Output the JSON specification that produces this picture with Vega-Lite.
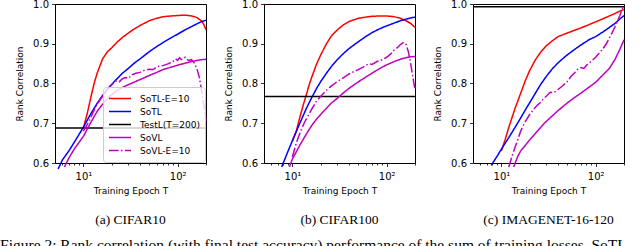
{
  "$schema": "https://vega.github.io/schema/vega-lite/v6.json",
  "padding": {"left": 0, "top": -2, "right": 0, "bottom": 0},
  "config": {
    "font": "DejaVu Sans",
    "view": {"stroke": "#000000", "strokeWidth": 1},
    "axis": {"grid": false, "domain": false, "tickColor": "#000000", "tickWidth": 0.8, "labelColor": "#000000", "titleColor": "#000000", "labelFont": "DejaVu Sans", "titleFont": "DejaVu Sans", "labelFontSize": 10, "titleFontSize": 9, "titleFontWeight": "normal"},
    "line": {"strokeWidth": 1.5, "clip": true}
  },
  "title": {"text": "Figure 2: Rank correlation (with final test accuracy) performance of the sum of training losses, SoTL", "orient": "bottom", "anchor": "start", "dx": -15, "offset": 11, "font": "Liberation Serif", "fontSize": 15.5, "fontWeight": "normal", "color": "#000000"},
  "resolve": {"scale": {"x": "independent", "y": "independent", "color": "independent", "strokeDash": "independent"}},
  "spacing": 14,
  "datasets": {
    "c10": [
      {"T": 10, "r": 0.688, "s": "SoTL-E=10"}, {"T": 11, "r": 0.725, "s": "SoTL-E=10"}, {"T": 12, "r": 0.765, "s": "SoTL-E=10"}, {"T": 13, "r": 0.8, "s": "SoTL-E=10"}, {"T": 14, "r": 0.826, "s": "SoTL-E=10"}, {"T": 16, "r": 0.862, "s": "SoTL-E=10"}, {"T": 18, "r": 0.88, "s": "SoTL-E=10"}, {"T": 20, "r": 0.89, "s": "SoTL-E=10"}, {"T": 23, "r": 0.905, "s": "SoTL-E=10"}, {"T": 26, "r": 0.916, "s": "SoTL-E=10"}, {"T": 30, "r": 0.927, "s": "SoTL-E=10"}, {"T": 35, "r": 0.938, "s": "SoTL-E=10"}, {"T": 40, "r": 0.946, "s": "SoTL-E=10"}, {"T": 50, "r": 0.958, "s": "SoTL-E=10"}, {"T": 60, "r": 0.964, "s": "SoTL-E=10"}, {"T": 70, "r": 0.968, "s": "SoTL-E=10"}, {"T": 85, "r": 0.97, "s": "SoTL-E=10"}, {"T": 100, "r": 0.971, "s": "SoTL-E=10"}, {"T": 120, "r": 0.972, "s": "SoTL-E=10"}, {"T": 140, "r": 0.97, "s": "SoTL-E=10"}, {"T": 160, "r": 0.966, "s": "SoTL-E=10"}, {"T": 180, "r": 0.957, "s": "SoTL-E=10"}, {"T": 190, "r": 0.948, "s": "SoTL-E=10"}, {"T": 200, "r": 0.935, "s": "SoTL-E=10"},
      {"T": 5.4, "r": 0.585, "s": "SoTL"}, {"T": 6, "r": 0.608, "s": "SoTL"}, {"T": 7, "r": 0.63, "s": "SoTL"}, {"T": 8, "r": 0.652, "s": "SoTL"}, {"T": 9, "r": 0.672, "s": "SoTL"}, {"T": 10, "r": 0.69, "s": "SoTL"}, {"T": 12, "r": 0.724, "s": "SoTL"}, {"T": 14, "r": 0.75, "s": "SoTL"}, {"T": 16, "r": 0.77, "s": "SoTL"}, {"T": 18, "r": 0.786, "s": "SoTL"}, {"T": 20, "r": 0.798, "s": "SoTL"}, {"T": 23, "r": 0.813, "s": "SoTL"}, {"T": 26, "r": 0.826, "s": "SoTL"}, {"T": 30, "r": 0.838, "s": "SoTL"}, {"T": 35, "r": 0.852, "s": "SoTL"}, {"T": 40, "r": 0.862, "s": "SoTL"}, {"T": 50, "r": 0.88, "s": "SoTL"}, {"T": 60, "r": 0.893, "s": "SoTL"}, {"T": 70, "r": 0.903, "s": "SoTL"}, {"T": 85, "r": 0.915, "s": "SoTL"}, {"T": 100, "r": 0.924, "s": "SoTL"}, {"T": 120, "r": 0.935, "s": "SoTL"}, {"T": 140, "r": 0.943, "s": "SoTL"}, {"T": 160, "r": 0.95, "s": "SoTL"}, {"T": 180, "r": 0.956, "s": "SoTL"}, {"T": 200, "r": 0.959, "s": "SoTL"},
      {"T": 5, "r": 0.688, "s": "TestL(T=200)"}, {"T": 200, "r": 0.688, "s": "TestL(T=200)"},
      {"T": 6.3, "r": 0.59, "s": "SoVL"}, {"T": 7, "r": 0.612, "s": "SoVL"}, {"T": 8, "r": 0.635, "s": "SoVL"}, {"T": 9, "r": 0.652, "s": "SoVL"}, {"T": 10, "r": 0.667, "s": "SoVL"}, {"T": 12, "r": 0.702, "s": "SoVL"}, {"T": 14, "r": 0.73, "s": "SoVL"}, {"T": 16, "r": 0.748, "s": "SoVL"}, {"T": 18, "r": 0.762, "s": "SoVL"}, {"T": 20, "r": 0.772, "s": "SoVL"}, {"T": 23, "r": 0.783, "s": "SoVL"}, {"T": 26, "r": 0.79, "s": "SoVL"}, {"T": 30, "r": 0.797, "s": "SoVL"}, {"T": 35, "r": 0.804, "s": "SoVL"}, {"T": 40, "r": 0.81, "s": "SoVL"}, {"T": 50, "r": 0.82, "s": "SoVL"}, {"T": 60, "r": 0.828, "s": "SoVL"}, {"T": 70, "r": 0.835, "s": "SoVL"}, {"T": 85, "r": 0.841, "s": "SoVL"}, {"T": 100, "r": 0.846, "s": "SoVL"}, {"T": 120, "r": 0.851, "s": "SoVL"}, {"T": 140, "r": 0.855, "s": "SoVL"}, {"T": 160, "r": 0.858, "s": "SoVL"}, {"T": 180, "r": 0.86, "s": "SoVL"}, {"T": 200, "r": 0.861, "s": "SoVL"},
      {"T": 10, "r": 0.68, "s": "SoVL-E=10"}, {"T": 11, "r": 0.697, "s": "SoVL-E=10"}, {"T": 12, "r": 0.715, "s": "SoVL-E=10"}, {"T": 13, "r": 0.733, "s": "SoVL-E=10"}, {"T": 14, "r": 0.748, "s": "SoVL-E=10"}, {"T": 16, "r": 0.768, "s": "SoVL-E=10"}, {"T": 18, "r": 0.784, "s": "SoVL-E=10"}, {"T": 20, "r": 0.797, "s": "SoVL-E=10"}, {"T": 22, "r": 0.806, "s": "SoVL-E=10"}, {"T": 24, "r": 0.804, "s": "SoVL-E=10"}, {"T": 26, "r": 0.812, "s": "SoVL-E=10"}, {"T": 28, "r": 0.815, "s": "SoVL-E=10"}, {"T": 30, "r": 0.813, "s": "SoVL-E=10"}, {"T": 33, "r": 0.822, "s": "SoVL-E=10"}, {"T": 36, "r": 0.826, "s": "SoVL-E=10"}, {"T": 40, "r": 0.828, "s": "SoVL-E=10"}, {"T": 45, "r": 0.834, "s": "SoVL-E=10"}, {"T": 50, "r": 0.836, "s": "SoVL-E=10"}, {"T": 55, "r": 0.835, "s": "SoVL-E=10"}, {"T": 60, "r": 0.842, "s": "SoVL-E=10"}, {"T": 70, "r": 0.845, "s": "SoVL-E=10"}, {"T": 80, "r": 0.85, "s": "SoVL-E=10"}, {"T": 90, "r": 0.856, "s": "SoVL-E=10"}, {"T": 95, "r": 0.862, "s": "SoVL-E=10"}, {"T": 100, "r": 0.858, "s": "SoVL-E=10"}, {"T": 105, "r": 0.865, "s": "SoVL-E=10"}, {"T": 110, "r": 0.86, "s": "SoVL-E=10"}, {"T": 120, "r": 0.866, "s": "SoVL-E=10"}, {"T": 130, "r": 0.858, "s": "SoVL-E=10"}, {"T": 140, "r": 0.86, "s": "SoVL-E=10"}, {"T": 150, "r": 0.852, "s": "SoVL-E=10"}, {"T": 160, "r": 0.838, "s": "SoVL-E=10"}, {"T": 170, "r": 0.815, "s": "SoVL-E=10"}, {"T": 180, "r": 0.78, "s": "SoVL-E=10"}, {"T": 190, "r": 0.745, "s": "SoVL-E=10"}, {"T": 200, "r": 0.705, "s": "SoVL-E=10"}
    ],
    "c100": [
      {"T": 10, "r": 0.655, "s": "SoTL-E=10"}, {"T": 11, "r": 0.68, "s": "SoTL-E=10"}, {"T": 12, "r": 0.715, "s": "SoTL-E=10"}, {"T": 13, "r": 0.745, "s": "SoTL-E=10"}, {"T": 14, "r": 0.77, "s": "SoTL-E=10"}, {"T": 15, "r": 0.795, "s": "SoTL-E=10"}, {"T": 16, "r": 0.815, "s": "SoTL-E=10"}, {"T": 18, "r": 0.848, "s": "SoTL-E=10"}, {"T": 20, "r": 0.872, "s": "SoTL-E=10"}, {"T": 23, "r": 0.9, "s": "SoTL-E=10"}, {"T": 26, "r": 0.92, "s": "SoTL-E=10"}, {"T": 30, "r": 0.935, "s": "SoTL-E=10"}, {"T": 35, "r": 0.948, "s": "SoTL-E=10"}, {"T": 40, "r": 0.956, "s": "SoTL-E=10"}, {"T": 50, "r": 0.964, "s": "SoTL-E=10"}, {"T": 60, "r": 0.967, "s": "SoTL-E=10"}, {"T": 70, "r": 0.969, "s": "SoTL-E=10"}, {"T": 85, "r": 0.97, "s": "SoTL-E=10"}, {"T": 100, "r": 0.97, "s": "SoTL-E=10"}, {"T": 120, "r": 0.968, "s": "SoTL-E=10"}, {"T": 140, "r": 0.964, "s": "SoTL-E=10"}, {"T": 160, "r": 0.958, "s": "SoTL-E=10"}, {"T": 180, "r": 0.951, "s": "SoTL-E=10"}, {"T": 200, "r": 0.941, "s": "SoTL-E=10"},
      {"T": 7.7, "r": 0.59, "s": "SoTL"}, {"T": 9, "r": 0.63, "s": "SoTL"}, {"T": 10, "r": 0.656, "s": "SoTL"}, {"T": 12, "r": 0.7, "s": "SoTL"}, {"T": 14, "r": 0.736, "s": "SoTL"}, {"T": 16, "r": 0.764, "s": "SoTL"}, {"T": 18, "r": 0.787, "s": "SoTL"}, {"T": 20, "r": 0.805, "s": "SoTL"}, {"T": 23, "r": 0.826, "s": "SoTL"}, {"T": 26, "r": 0.843, "s": "SoTL"}, {"T": 30, "r": 0.86, "s": "SoTL"}, {"T": 35, "r": 0.876, "s": "SoTL"}, {"T": 40, "r": 0.888, "s": "SoTL"}, {"T": 50, "r": 0.905, "s": "SoTL"}, {"T": 60, "r": 0.918, "s": "SoTL"}, {"T": 70, "r": 0.928, "s": "SoTL"}, {"T": 85, "r": 0.938, "s": "SoTL"}, {"T": 100, "r": 0.945, "s": "SoTL"}, {"T": 120, "r": 0.952, "s": "SoTL"}, {"T": 140, "r": 0.958, "s": "SoTL"}, {"T": 160, "r": 0.962, "s": "SoTL"}, {"T": 180, "r": 0.965, "s": "SoTL"}, {"T": 200, "r": 0.967, "s": "SoTL"},
      {"T": 5, "r": 0.767, "s": "TestL(T=200)"}, {"T": 200, "r": 0.767, "s": "TestL(T=200)"},
      {"T": 9.3, "r": 0.59, "s": "SoVL"}, {"T": 10, "r": 0.61, "s": "SoVL"}, {"T": 11, "r": 0.628, "s": "SoVL"}, {"T": 12, "r": 0.645, "s": "SoVL"}, {"T": 14, "r": 0.672, "s": "SoVL"}, {"T": 16, "r": 0.694, "s": "SoVL"}, {"T": 18, "r": 0.71, "s": "SoVL"}, {"T": 20, "r": 0.722, "s": "SoVL"}, {"T": 23, "r": 0.738, "s": "SoVL"}, {"T": 26, "r": 0.751, "s": "SoVL"}, {"T": 30, "r": 0.763, "s": "SoVL"}, {"T": 35, "r": 0.777, "s": "SoVL"}, {"T": 40, "r": 0.788, "s": "SoVL"}, {"T": 50, "r": 0.804, "s": "SoVL"}, {"T": 60, "r": 0.816, "s": "SoVL"}, {"T": 70, "r": 0.826, "s": "SoVL"}, {"T": 85, "r": 0.838, "s": "SoVL"}, {"T": 100, "r": 0.847, "s": "SoVL"}, {"T": 120, "r": 0.855, "s": "SoVL"}, {"T": 140, "r": 0.861, "s": "SoVL"}, {"T": 160, "r": 0.865, "s": "SoVL"}, {"T": 180, "r": 0.867, "s": "SoVL"}, {"T": 200, "r": 0.868, "s": "SoVL"},
      {"T": 10, "r": 0.615, "s": "SoVL-E=10"}, {"T": 11, "r": 0.65, "s": "SoVL-E=10"}, {"T": 12, "r": 0.675, "s": "SoVL-E=10"}, {"T": 13, "r": 0.695, "s": "SoVL-E=10"}, {"T": 14, "r": 0.71, "s": "SoVL-E=10"}, {"T": 16, "r": 0.735, "s": "SoVL-E=10"}, {"T": 18, "r": 0.755, "s": "SoVL-E=10"}, {"T": 20, "r": 0.768, "s": "SoVL-E=10"}, {"T": 23, "r": 0.783, "s": "SoVL-E=10"}, {"T": 26, "r": 0.794, "s": "SoVL-E=10"}, {"T": 30, "r": 0.805, "s": "SoVL-E=10"}, {"T": 35, "r": 0.815, "s": "SoVL-E=10"}, {"T": 40, "r": 0.824, "s": "SoVL-E=10"}, {"T": 45, "r": 0.83, "s": "SoVL-E=10"}, {"T": 50, "r": 0.835, "s": "SoVL-E=10"}, {"T": 55, "r": 0.84, "s": "SoVL-E=10"}, {"T": 60, "r": 0.845, "s": "SoVL-E=10"}, {"T": 65, "r": 0.85, "s": "SoVL-E=10"}, {"T": 70, "r": 0.848, "s": "SoVL-E=10"}, {"T": 80, "r": 0.856, "s": "SoVL-E=10"}, {"T": 90, "r": 0.86, "s": "SoVL-E=10"}, {"T": 100, "r": 0.866, "s": "SoVL-E=10"}, {"T": 110, "r": 0.874, "s": "SoVL-E=10"}, {"T": 120, "r": 0.884, "s": "SoVL-E=10"}, {"T": 130, "r": 0.89, "s": "SoVL-E=10"}, {"T": 140, "r": 0.898, "s": "SoVL-E=10"}, {"T": 150, "r": 0.903, "s": "SoVL-E=10"}, {"T": 160, "r": 0.9, "s": "SoVL-E=10"}, {"T": 170, "r": 0.88, "s": "SoVL-E=10"}, {"T": 180, "r": 0.85, "s": "SoVL-E=10"}, {"T": 190, "r": 0.815, "s": "SoVL-E=10"}, {"T": 200, "r": 0.785, "s": "SoVL-E=10"}
    ],
    "im": [
      {"T": 10, "r": 0.63, "s": "SoTL-E=10"}, {"T": 11, "r": 0.66, "s": "SoTL-E=10"}, {"T": 12, "r": 0.69, "s": "SoTL-E=10"}, {"T": 13, "r": 0.715, "s": "SoTL-E=10"}, {"T": 14, "r": 0.738, "s": "SoTL-E=10"}, {"T": 16, "r": 0.775, "s": "SoTL-E=10"}, {"T": 18, "r": 0.808, "s": "SoTL-E=10"}, {"T": 20, "r": 0.833, "s": "SoTL-E=10"}, {"T": 23, "r": 0.86, "s": "SoTL-E=10"}, {"T": 26, "r": 0.878, "s": "SoTL-E=10"}, {"T": 30, "r": 0.895, "s": "SoTL-E=10"}, {"T": 35, "r": 0.908, "s": "SoTL-E=10"}, {"T": 40, "r": 0.918, "s": "SoTL-E=10"}, {"T": 50, "r": 0.927, "s": "SoTL-E=10"}, {"T": 60, "r": 0.934, "s": "SoTL-E=10"}, {"T": 70, "r": 0.94, "s": "SoTL-E=10"}, {"T": 85, "r": 0.948, "s": "SoTL-E=10"}, {"T": 100, "r": 0.955, "s": "SoTL-E=10"}, {"T": 120, "r": 0.963, "s": "SoTL-E=10"}, {"T": 140, "r": 0.97, "s": "SoTL-E=10"}, {"T": 160, "r": 0.976, "s": "SoTL-E=10"}, {"T": 180, "r": 0.982, "s": "SoTL-E=10"}, {"T": 200, "r": 0.986, "s": "SoTL-E=10"},
      {"T": 7.8, "r": 0.594, "s": "SoTL"}, {"T": 9, "r": 0.617, "s": "SoTL"}, {"T": 10, "r": 0.635, "s": "SoTL"}, {"T": 12, "r": 0.664, "s": "SoTL"}, {"T": 14, "r": 0.69, "s": "SoTL"}, {"T": 16, "r": 0.713, "s": "SoTL"}, {"T": 18, "r": 0.734, "s": "SoTL"}, {"T": 20, "r": 0.752, "s": "SoTL"}, {"T": 23, "r": 0.776, "s": "SoTL"}, {"T": 26, "r": 0.797, "s": "SoTL"}, {"T": 30, "r": 0.818, "s": "SoTL"}, {"T": 35, "r": 0.838, "s": "SoTL"}, {"T": 40, "r": 0.852, "s": "SoTL"}, {"T": 45, "r": 0.863, "s": "SoTL"}, {"T": 50, "r": 0.872, "s": "SoTL"}, {"T": 60, "r": 0.886, "s": "SoTL"}, {"T": 70, "r": 0.897, "s": "SoTL"}, {"T": 85, "r": 0.91, "s": "SoTL"}, {"T": 100, "r": 0.918, "s": "SoTL"}, {"T": 120, "r": 0.93, "s": "SoTL"}, {"T": 140, "r": 0.941, "s": "SoTL"}, {"T": 160, "r": 0.951, "s": "SoTL"}, {"T": 180, "r": 0.962, "s": "SoTL"}, {"T": 200, "r": 0.971, "s": "SoTL"},
      {"T": 5, "r": 0.993, "s": "TestL(T=200)"}, {"T": 200, "r": 0.993, "s": "TestL(T=200)"},
      {"T": 13.5, "r": 0.59, "s": "SoVL"}, {"T": 15, "r": 0.618, "s": "SoVL"}, {"T": 16, "r": 0.63, "s": "SoVL"}, {"T": 18, "r": 0.645, "s": "SoVL"}, {"T": 20, "r": 0.658, "s": "SoVL"}, {"T": 24, "r": 0.68, "s": "SoVL"}, {"T": 28, "r": 0.698, "s": "SoVL"}, {"T": 32, "r": 0.711, "s": "SoVL"}, {"T": 36, "r": 0.722, "s": "SoVL"}, {"T": 40, "r": 0.732, "s": "SoVL"}, {"T": 45, "r": 0.742, "s": "SoVL"}, {"T": 50, "r": 0.751, "s": "SoVL"}, {"T": 60, "r": 0.765, "s": "SoVL"}, {"T": 70, "r": 0.776, "s": "SoVL"}, {"T": 80, "r": 0.786, "s": "SoVL"}, {"T": 90, "r": 0.795, "s": "SoVL"}, {"T": 100, "r": 0.803, "s": "SoVL"}, {"T": 120, "r": 0.822, "s": "SoVL"}, {"T": 140, "r": 0.838, "s": "SoVL"}, {"T": 160, "r": 0.86, "s": "SoVL"}, {"T": 180, "r": 0.885, "s": "SoVL"}, {"T": 200, "r": 0.91, "s": "SoVL"},
      {"T": 12, "r": 0.59, "s": "SoVL-E=10"}, {"T": 13, "r": 0.618, "s": "SoVL-E=10"}, {"T": 14, "r": 0.64, "s": "SoVL-E=10"}, {"T": 15, "r": 0.66, "s": "SoVL-E=10"}, {"T": 16, "r": 0.68, "s": "SoVL-E=10"}, {"T": 18, "r": 0.705, "s": "SoVL-E=10"}, {"T": 20, "r": 0.722, "s": "SoVL-E=10"}, {"T": 22, "r": 0.735, "s": "SoVL-E=10"}, {"T": 24, "r": 0.745, "s": "SoVL-E=10"}, {"T": 26, "r": 0.752, "s": "SoVL-E=10"}, {"T": 28, "r": 0.762, "s": "SoVL-E=10"}, {"T": 30, "r": 0.768, "s": "SoVL-E=10"}, {"T": 33, "r": 0.778, "s": "SoVL-E=10"}, {"T": 36, "r": 0.777, "s": "SoVL-E=10"}, {"T": 40, "r": 0.785, "s": "SoVL-E=10"}, {"T": 45, "r": 0.795, "s": "SoVL-E=10"}, {"T": 50, "r": 0.805, "s": "SoVL-E=10"}, {"T": 55, "r": 0.818, "s": "SoVL-E=10"}, {"T": 60, "r": 0.827, "s": "SoVL-E=10"}, {"T": 65, "r": 0.836, "s": "SoVL-E=10"}, {"T": 70, "r": 0.84, "s": "SoVL-E=10"}, {"T": 75, "r": 0.838, "s": "SoVL-E=10"}, {"T": 80, "r": 0.846, "s": "SoVL-E=10"}, {"T": 90, "r": 0.856, "s": "SoVL-E=10"}, {"T": 100, "r": 0.866, "s": "SoVL-E=10"}, {"T": 110, "r": 0.877, "s": "SoVL-E=10"}, {"T": 120, "r": 0.888, "s": "SoVL-E=10"}, {"T": 130, "r": 0.9, "s": "SoVL-E=10"}, {"T": 140, "r": 0.915, "s": "SoVL-E=10"}, {"T": 150, "r": 0.928, "s": "SoVL-E=10"}, {"T": 160, "r": 0.942, "s": "SoVL-E=10"}, {"T": 170, "r": 0.956, "s": "SoVL-E=10"}, {"T": 180, "r": 0.97, "s": "SoVL-E=10"}, {"T": 190, "r": 0.985, "s": "SoVL-E=10"}, {"T": 197, "r": 0.995, "s": "SoVL-E=10"}, {"T": 200, "r": 0.992, "s": "SoVL-E=10"}
    ]
  },
  "hconcat": [
    {
      "width": 151, "height": 159,
      "title": {"text": "(a) CIFAR10", "orient": "bottom", "offset": 17, "font": "Liberation Serif", "fontSize": 13.5, "fontWeight": "normal", "color": "#000000"},
      "data": {"name": "c10"},
      "mark": {"type": "line"},
      "encoding": {
        "x": {"field": "T", "type": "quantitative", "title": "Training Epoch T", "scale": {"type": "log", "domain": [5, 200], "nice": false},
          "axis": {"values": [6, 7, 8, 9, 10, 20, 30, 40, 50, 60, 70, 80, 90, 100, 200], "labelExpr": "datum.value == 10 ? '10¹' : datum.value == 100 ? '10²' : ''", "tickSize": {"condition": {"test": "datum.value == 10 || datum.value == 100", "value": 3.5}, "value": 2}, "labelPadding": 5, "titlePadding": 5, "labelFlush": false}},
        "y": {"field": "r", "type": "quantitative", "title": "Rank Correlation", "scale": {"domain": [0.6, 1.0], "nice": false, "zero": false},
          "axis": {"values": [0.6, 0.7, 0.8, 0.9, 1.0], "format": ".1f", "tickSize": 3.5, "labelPadding": 3, "titlePadding": 8, "labelFlush": false}},
        "color": {"field": "s", "type": "nominal", "scale": {"domain": ["SoTL-E=10", "SoTL", "TestL(T=200)", "SoVL", "SoVL-E=10"], "range": ["#ff0000", "#0000ff", "#000000", "#bf00bf", "#bf00bf"]},
          "legend": {"title": null, "orient": "bottom-right", "offset": 1, "fillColor": "rgba(255,255,255,0.8)", "strokeColor": "#cccccc", "cornerRadius": 3, "padding": 5, "symbolType": "stroke", "symbolSize": 484, "symbolStrokeWidth": 1.5, "clipHeight": 13, "labelFont": "DejaVu Sans", "labelFontSize": 9, "labelColor": "#000000", "rowPadding": 0, "labelOffset": 8, "labelLimit": 0}},
        "strokeDash": {"field": "s", "type": "nominal", "scale": {"domain": ["SoTL-E=10", "SoTL", "TestL(T=200)", "SoVL", "SoVL-E=10"], "range": [[1, 0], [1, 0], [1, 0], [1, 0], [9.6, 2.4, 1.5, 2.4]]},
          "legend": {"title": null, "orient": "bottom-right", "offset": 1, "fillColor": "rgba(255,255,255,0.8)", "strokeColor": "#cccccc", "cornerRadius": 3, "padding": 5, "symbolType": "stroke", "symbolSize": 484, "symbolStrokeWidth": 1.5, "clipHeight": 13, "labelFont": "DejaVu Sans", "labelFontSize": 9, "labelColor": "#000000", "rowPadding": 0, "labelOffset": 8, "labelLimit": 0}}
      }
    },
    {
      "width": 151, "height": 159,
      "title": {"text": "(b) CIFAR100", "orient": "bottom", "offset": 17, "font": "Liberation Serif", "fontSize": 13.5, "fontWeight": "normal", "color": "#000000"},
      "data": {"name": "c100"},
      "mark": {"type": "line"},
      "encoding": {
        "x": {"field": "T", "type": "quantitative", "title": "Training Epoch T", "scale": {"type": "log", "domain": [5, 200], "nice": false},
          "axis": {"values": [6, 7, 8, 9, 10, 20, 30, 40, 50, 60, 70, 80, 90, 100, 200], "labelExpr": "datum.value == 10 ? '10¹' : datum.value == 100 ? '10²' : ''", "tickSize": {"condition": {"test": "datum.value == 10 || datum.value == 100", "value": 3.5}, "value": 2}, "labelPadding": 5, "titlePadding": 5, "labelFlush": false}},
        "y": {"field": "r", "type": "quantitative", "title": "Rank Correlation", "scale": {"domain": [0.6, 1.0], "nice": false, "zero": false},
          "axis": {"values": [0.6, 0.7, 0.8, 0.9, 1.0], "format": ".1f", "tickSize": 3.5, "labelPadding": 3, "titlePadding": 8, "labelFlush": false}},
        "color": {"field": "s", "type": "nominal", "scale": {"domain": ["SoTL-E=10", "SoTL", "TestL(T=200)", "SoVL", "SoVL-E=10"], "range": ["#ff0000", "#0000ff", "#000000", "#bf00bf", "#bf00bf"]}, "legend": null},
        "strokeDash": {"field": "s", "type": "nominal", "scale": {"domain": ["SoTL-E=10", "SoTL", "TestL(T=200)", "SoVL", "SoVL-E=10"], "range": [[1, 0], [1, 0], [1, 0], [1, 0], [9.6, 2.4, 1.5, 2.4]]}, "legend": null}
      }
    },
    {
      "width": 151, "height": 159,
      "title": {"text": "(c) IMAGENET-16-120", "orient": "bottom", "offset": 17, "font": "Liberation Serif", "fontSize": 13.5, "fontWeight": "normal", "color": "#000000"},
      "data": {"name": "im"},
      "mark": {"type": "line"},
      "encoding": {
        "x": {"field": "T", "type": "quantitative", "title": "Training Epoch T", "scale": {"type": "log", "domain": [5, 200], "nice": false},
          "axis": {"values": [6, 7, 8, 9, 10, 20, 30, 40, 50, 60, 70, 80, 90, 100, 200], "labelExpr": "datum.value == 10 ? '10¹' : datum.value == 100 ? '10²' : ''", "tickSize": {"condition": {"test": "datum.value == 10 || datum.value == 100", "value": 3.5}, "value": 2}, "labelPadding": 5, "titlePadding": 5, "labelFlush": false}},
        "y": {"field": "r", "type": "quantitative", "title": "Rank Correlation", "scale": {"domain": [0.6, 1.0], "nice": false, "zero": false},
          "axis": {"values": [0.6, 0.7, 0.8, 0.9, 1.0], "format": ".1f", "tickSize": 3.5, "labelPadding": 3, "titlePadding": 8, "labelFlush": false}},
        "color": {"field": "s", "type": "nominal", "scale": {"domain": ["SoTL-E=10", "SoTL", "TestL(T=200)", "SoVL", "SoVL-E=10"], "range": ["#ff0000", "#0000ff", "#000000", "#bf00bf", "#bf00bf"]}, "legend": null},
        "strokeDash": {"field": "s", "type": "nominal", "scale": {"domain": ["SoTL-E=10", "SoTL", "TestL(T=200)", "SoVL", "SoVL-E=10"], "range": [[1, 0], [1, 0], [1, 0], [1, 0], [9.6, 2.4, 1.5, 2.4]]}, "legend": null}
      }
    }
  ]
}
